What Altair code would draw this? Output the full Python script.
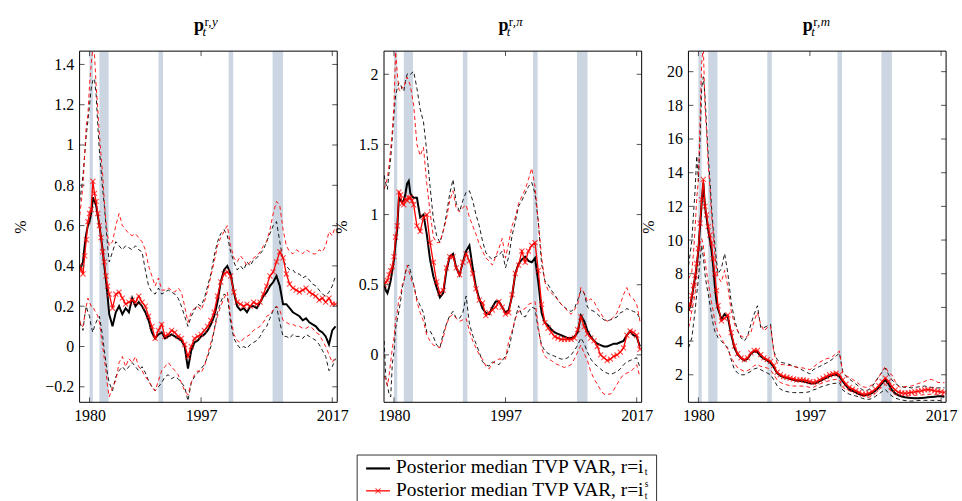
import altair as alt
import pandas as pd

FONT = "Liberation Serif"
W, H = 259, 353

# ---------------- data ----------------
YEARS = [
    1978.5, 1978.75, 1979.0, 1979.25, 1979.5, 1979.75, 1980.0, 1980.25, 1980.5, 1980.75,
    1981.0, 1981.25, 1981.5, 1981.75, 1982.0, 1982.25, 1982.5, 1982.75, 1983.0,
    1983.5, 1984.0, 1984.5, 1985.0, 1985.5, 1986.0, 1986.5, 1987.0, 1987.5, 1988.0,
    1988.5, 1989.0, 1989.5, 1990.0, 1990.5, 1991.0, 1991.5, 1992.0, 1992.5, 1993.0,
    1993.5, 1994.0, 1994.5, 1995.0, 1995.5, 1996.0, 1996.5, 1997.0, 1997.5, 1998.0,
    1998.5, 1999.0, 1999.5, 2000.0, 2000.5, 2001.0, 2001.5, 2002.0, 2002.5, 2003.0,
    2003.5, 2004.0, 2004.5, 2005.0, 2005.5, 2006.0, 2006.5, 2007.0, 2007.5, 2008.0,
    2008.5, 2009.0, 2009.5, 2010.0, 2010.5, 2011.0, 2011.5, 2012.0, 2012.5, 2013.0,
    2013.5, 2014.0, 2014.5, 2015.0, 2015.5, 2016.0, 2016.5, 2017.0, 2017.5]

# Panel 1: p^{r,y}
BM1 = [0.38, 0.40, 0.42, 0.50, 0.56, 0.60, 0.62, 0.66, 0.74, 0.72,
       0.70, 0.65, 0.60, 0.54, 0.48, 0.40, 0.33, 0.25, 0.16,
       0.10, 0.17, 0.20, 0.16, 0.19, 0.17, 0.24, 0.20, 0.22, 0.20,
       0.17, 0.13, 0.07, 0.04, 0.06, 0.07, 0.04, 0.05, 0.06, 0.05,
       0.04, 0.03, 0.00, -0.11, -0.02, 0.02, 0.03, 0.05, 0.06, 0.08,
       0.11, 0.15, 0.22, 0.32, 0.38, 0.40, 0.36, 0.27, 0.20, 0.18,
       0.19, 0.17, 0.20, 0.20, 0.19, 0.22, 0.25, 0.27, 0.30, 0.32,
       0.35, 0.30, 0.21, 0.21, 0.19, 0.17, 0.16, 0.15, 0.13, 0.14,
       0.12, 0.11, 0.10, 0.08, 0.07, 0.05, 0.01, 0.08, 0.10]
RM1 = [0.40, 0.38, 0.36, 0.45, 0.53, 0.62, 0.66, 0.68, 0.82, 0.76,
       0.72, 0.66, 0.60, 0.54, 0.47, 0.42, 0.35, 0.30, 0.26,
       0.19, 0.26, 0.27, 0.24, 0.21, 0.22, 0.23, 0.22, 0.25, 0.22,
       0.20, 0.15, 0.10, 0.04, 0.08, 0.11, 0.05, 0.06, 0.08, 0.07,
       0.05, 0.04, 0.01, -0.05, 0.00, 0.04, 0.05, 0.06, 0.08, 0.10,
       0.13, 0.17, 0.25, 0.32, 0.36, 0.37, 0.35, 0.27, 0.22, 0.21,
       0.20, 0.21, 0.20, 0.22, 0.21, 0.22, 0.26, 0.30, 0.35, 0.37,
       0.42, 0.47, 0.44, 0.36, 0.31, 0.29, 0.28, 0.27, 0.28, 0.29,
       0.27, 0.26, 0.25, 0.23, 0.24, 0.22, 0.24, 0.21, 0.21]
BU1 = [0.72, 0.78, 0.85, 0.95, 1.05, 1.12, 1.20, 1.28, 1.32, 1.33,
       1.25, 1.10, 0.97, 0.88, 0.78, 0.70, 0.60, 0.50, 0.42,
       0.47, 0.52, 0.50, 0.48, 0.50, 0.49, 0.48, 0.50, 0.48, 0.47,
       0.38, 0.30, 0.27, 0.26, 0.29, 0.26, 0.27, 0.28, 0.27, 0.26,
       0.24, 0.20, 0.15, 0.10, 0.15, 0.18, 0.21, 0.20, 0.24, 0.30,
       0.36, 0.45, 0.52, 0.56, 0.58, 0.55, 0.47, 0.42, 0.38, 0.40,
       0.38, 0.42, 0.40, 0.43, 0.44, 0.46, 0.48, 0.52, 0.56, 0.60,
       0.62, 0.52, 0.43, 0.40, 0.38, 0.38, 0.36, 0.36, 0.34, 0.35,
       0.33, 0.31, 0.30, 0.28, 0.26, 0.25, 0.27, 0.30, 0.35]
RU1 = [0.65, 0.72, 0.80, 0.95, 1.10, 1.15, 1.30, 1.40, 1.48, 1.45,
       1.30, 1.18, 1.05, 0.95, 0.85, 0.72, 0.62, 0.55, 0.50,
       0.52, 0.60, 0.66, 0.60, 0.58, 0.56, 0.55, 0.56, 0.54, 0.52,
       0.48, 0.40, 0.35, 0.30, 0.34, 0.28, 0.28, 0.29, 0.28, 0.27,
       0.29, 0.27, 0.20, 0.12, 0.17, 0.19, 0.20, 0.18, 0.22, 0.28,
       0.35, 0.42, 0.50, 0.54, 0.57, 0.60, 0.50, 0.44, 0.42, 0.45,
       0.43, 0.40, 0.42, 0.44, 0.45, 0.47, 0.50, 0.52, 0.58, 0.66,
       0.72, 0.70, 0.58, 0.50, 0.47, 0.46, 0.48, 0.47, 0.46, 0.48,
       0.47, 0.46, 0.46, 0.48, 0.47, 0.50, 0.57, 0.55, 0.60]
BL1 = [0.12, 0.10, 0.08, 0.15, 0.20, 0.17, 0.15, 0.10, 0.07, 0.10,
       0.12, 0.14, 0.15, 0.10, 0.05, -0.02, -0.08, -0.14, -0.18,
       -0.22, -0.15, -0.12, -0.10, -0.12, -0.10, -0.08, -0.10, -0.12, -0.10,
       -0.13, -0.17, -0.20, -0.22, -0.20, -0.18, -0.15, -0.14, -0.16, -0.15,
       -0.16, -0.18, -0.20, -0.27, -0.18, -0.15, -0.13, -0.11, -0.09, -0.05,
       0.00, 0.08, 0.17, 0.22, 0.26, 0.25, 0.12, 0.04, 0.01, -0.01,
       0.00, -0.01, 0.01, 0.02, 0.03, 0.05, 0.08, 0.10, 0.14, 0.18,
       0.20, 0.12, 0.05, 0.05, 0.04, 0.06, 0.05, 0.05, 0.04, 0.06,
       0.05, 0.04, 0.03, 0.01, -0.02, -0.05, -0.12, -0.10, -0.06]
RL1 = [0.13, 0.10, 0.10, 0.15, 0.20, 0.24, 0.22, 0.20, 0.20, 0.18,
       0.17, 0.15, 0.12, 0.06, 0.00, -0.06, -0.12, -0.20, -0.25,
       -0.20, -0.17, -0.08, -0.05, -0.10, -0.06, -0.08, -0.05, -0.10, -0.12,
       -0.15, -0.17, -0.20, -0.22, -0.17, -0.12, -0.10, -0.08, -0.10, -0.12,
       -0.14, -0.18, -0.22, -0.24, -0.18, -0.14, -0.12, -0.13, -0.10, -0.04,
       0.02, 0.08, 0.15, 0.20, 0.24, 0.27, 0.15, 0.06, 0.03, 0.02,
       0.04, 0.05, 0.06, 0.08, 0.09, 0.10, 0.12, 0.15, 0.16, 0.18,
       0.20, 0.18, 0.13, 0.12, 0.11, 0.11, 0.10, 0.10, 0.09, 0.09,
       0.10, 0.09, 0.07, 0.06, 0.03, 0.00, -0.04, -0.08, -0.05]

# Panel 2: p^{r,pi}
BM2 = [0.50, 0.46, 0.44, 0.48, 0.53, 0.60, 0.68, 0.80, 0.90, 1.12,
       1.10, 1.09, 1.10, 1.15, 1.22, 1.24, 1.15, 1.13, 1.12,
       1.12, 0.98, 1.00, 0.86, 0.68, 0.56, 0.48, 0.41, 0.44, 0.60,
       0.70, 0.72, 0.62, 0.57, 0.66, 0.74, 0.78, 0.62, 0.48, 0.40,
       0.33, 0.30, 0.29, 0.34, 0.38, 0.38, 0.34, 0.30, 0.32, 0.42,
       0.58, 0.65, 0.68, 0.70, 0.67, 0.66, 0.69, 0.52, 0.30, 0.23,
       0.21, 0.18, 0.16, 0.15, 0.14, 0.13, 0.12, 0.12, 0.13, 0.16,
       0.28, 0.24, 0.17, 0.13, 0.10, 0.08, 0.07, 0.06, 0.06, 0.07,
       0.08, 0.08, 0.09, 0.10, 0.14, 0.17, 0.14, 0.13, 0.06]
RM2 = [0.50, 0.52, 0.53, 0.57, 0.60, 0.63, 0.70, 0.84, 0.92, 1.16,
       1.14, 1.08, 1.07, 1.11, 1.10, 1.12, 1.12, 1.10, 1.07,
       0.92, 0.88, 0.98, 1.00, 0.80, 0.66, 0.52, 0.44, 0.46, 0.62,
       0.70, 0.70, 0.62, 0.57, 0.66, 0.72, 0.67, 0.58, 0.47, 0.39,
       0.37, 0.28, 0.30, 0.32, 0.34, 0.38, 0.34, 0.29, 0.30, 0.43,
       0.58, 0.64, 0.74, 0.66, 0.74, 0.78, 0.80, 0.60, 0.36, 0.23,
       0.19, 0.16, 0.13, 0.12, 0.11, 0.11, 0.11, 0.11, 0.12, 0.18,
       0.27, 0.20, 0.15, 0.12, 0.10, 0.06, 0.00, -0.02, -0.04, -0.03,
       -0.01, 0.00, 0.02, 0.05, 0.14, 0.17, 0.16, 0.14, 0.04]
BU2 = [1.28, 1.22, 1.18, 1.30, 1.40, 1.55, 1.72, 1.85, 1.90, 1.94,
       1.93, 1.89, 1.88, 1.95, 2.00, 2.01, 2.00, 2.01, 2.02,
       1.90, 1.75, 1.66, 1.45, 1.20, 0.97, 0.85, 0.80, 0.88, 1.00,
       1.15, 1.25, 1.08, 1.02, 1.10, 1.16, 1.17, 1.10, 1.00, 0.92,
       0.81, 0.73, 0.70, 0.68, 0.70, 0.71, 0.74, 0.62, 0.70, 0.85,
       0.95, 1.06, 1.10, 1.15, 1.20, 1.23, 1.15, 0.95, 0.65, 0.53,
       0.50, 0.46, 0.43, 0.39, 0.36, 0.34, 0.32, 0.31, 0.33, 0.39,
       0.46, 0.44, 0.34, 0.32, 0.31, 0.29, 0.27, 0.25, 0.24, 0.25,
       0.26, 0.27, 0.30, 0.31, 0.33, 0.32, 0.31, 0.30, 0.26]
RU2 = [1.18, 1.22, 1.26, 1.35, 1.47, 1.60, 1.78, 2.16, 2.01, 1.89,
       1.88, 1.91, 1.90, 1.95, 1.98, 1.95, 1.92, 1.85, 1.78,
       1.50, 1.42, 1.48, 1.22, 1.02, 0.84, 0.80, 0.80, 0.88, 0.97,
       1.10, 1.17, 1.04, 1.02, 1.05, 1.07, 0.98, 0.92, 0.86, 0.79,
       0.74, 0.69, 0.67, 0.64, 0.70, 0.76, 0.83, 0.69, 0.80, 0.92,
       0.98, 1.08, 1.13, 1.18, 1.25, 1.33, 1.20, 0.95, 0.70, 0.52,
       0.46, 0.44, 0.42, 0.39, 0.36, 0.34, 0.31, 0.29, 0.32, 0.36,
       0.48, 0.44, 0.38, 0.40, 0.38, 0.33, 0.30, 0.26, 0.24, 0.25,
       0.27, 0.30, 0.36, 0.43, 0.48, 0.42, 0.40, 0.36, 0.24]
BL2 = [0.10, -0.16, -0.22, -0.28, -0.30, -0.06, 0.02, 0.19, 0.25, 0.31,
       0.38, 0.48, 0.52, 0.59, 0.63, 0.64, 0.60, 0.55, 0.50,
       0.40, 0.35, 0.30, 0.16, 0.17, 0.13, 0.07, 0.05, 0.15, 0.22,
       0.28, 0.31, 0.26, 0.26, 0.30, 0.42, 0.22, 0.14, 0.08, 0.02,
       -0.05, -0.07, -0.08, -0.05, -0.06, -0.07, -0.04, -0.01, 0.04, 0.15,
       0.26, 0.35, 0.28, 0.27, 0.31, 0.34, 0.33, 0.18, 0.07, 0.03,
       0.01, 0.00, -0.01, -0.02, -0.03, -0.03, -0.02, 0.00, 0.03, 0.07,
       0.12, 0.08, 0.02, -0.03, -0.06, -0.08, -0.10, -0.12, -0.13, -0.14,
       -0.13, -0.12, -0.10, -0.07, -0.05, -0.04, -0.03, -0.02, -0.09]
RL2 = [-0.15, -0.18, -0.22, -0.15, -0.05, 0.05, 0.12, 0.25, 0.30, 0.40,
       0.42, 0.50, 0.52, 0.58, 0.64, 0.60, 0.56, 0.52, 0.50,
       0.38, 0.30, 0.24, 0.14, 0.10, 0.07, 0.06, 0.05, 0.12, 0.22,
       0.27, 0.29, 0.26, 0.24, 0.25, 0.26, 0.17, 0.10, 0.05, 0.00,
       -0.03, -0.08, -0.10, -0.06, -0.04, -0.03, -0.03, -0.03, 0.10, 0.17,
       0.26, 0.31, 0.32, 0.33, 0.36, 0.37, 0.38, 0.20, 0.05, -0.01,
       -0.03, -0.04, -0.06, -0.07, -0.08, -0.09, -0.08, -0.07, -0.03, 0.02,
       0.07, 0.01, -0.04, -0.12, -0.17, -0.21, -0.25, -0.28, -0.28, -0.28,
       -0.25, -0.21, -0.17, -0.14, -0.13, -0.12, -0.10, -0.07, -0.16]

# Panel 3: p^{r,m}
BM3 = [5.8, 6.1, 6.6, 7.2, 7.8, 8.5, 9.4, 10.8, 12.2, 13.4,
       12.0, 11.3, 10.6, 10.0, 9.4, 8.5, 7.3, 6.4, 5.9,
       5.3, 5.6, 5.4, 4.4, 3.6, 3.2, 3.0, 2.85, 2.95, 3.25,
       3.4, 3.35, 3.1, 2.95, 2.85, 2.7, 2.45, 2.1, 1.95, 1.85,
       1.8, 1.75, 1.7, 1.65, 1.65, 1.6, 1.55, 1.5, 1.48, 1.52,
       1.62, 1.72, 1.82, 1.92, 1.98, 2.02, 1.9, 1.6, 1.35, 1.15,
       1.05, 0.95, 0.85, 0.78, 0.78, 0.82, 0.92, 1.05, 1.25, 1.5,
       1.7, 1.45, 1.1, 0.9, 0.78, 0.7, 0.66, 0.63, 0.62, 0.6,
       0.6, 0.62, 0.64, 0.66, 0.68, 0.7, 0.72, 0.72, 0.7]
RM3 = [5.9, 6.2, 6.7, 7.3, 7.9, 8.6, 9.5, 11.0, 12.4, 13.6,
       12.0, 11.5, 10.8, 10.3, 9.8, 8.9, 8.0, 7.0, 6.1,
       5.2, 5.35, 5.55, 4.5, 3.7, 3.25, 3.0, 2.9, 3.0, 3.3,
       3.45, 3.45, 3.2, 3.0, 2.9, 2.8, 2.55, 2.15, 2.0, 1.9,
       1.85, 1.8, 1.75, 1.7, 1.7, 1.7, 1.65, 1.6, 1.55, 1.6,
       1.7, 1.8, 1.9, 2.0, 2.05, 2.1, 2.0, 1.7, 1.45, 1.25,
       1.15, 1.05, 0.95, 0.85, 0.85, 0.9, 1.0, 1.15, 1.35, 1.6,
       1.8, 1.6, 1.3, 1.1, 0.95, 0.92, 0.9, 0.92, 0.95, 0.98,
       1.02, 1.05, 1.1, 1.12, 1.1, 1.05, 1.02, 0.98, 0.95]
BU3 = [8.5, 9.2, 10.0, 11.5, 13.0, 15.0, 13.5, 16.0, 19.0, 19.7,
       18.6, 16.8, 15.0, 13.6, 12.0, 10.7, 9.8, 8.8, 8.0,
       8.3, 9.2, 8.0, 6.3, 5.3, 4.6, 4.2, 4.0, 4.3, 5.0,
       5.6, 6.1, 4.8, 4.8, 4.9, 5.0, 3.4, 2.9, 2.75, 2.7,
       2.65, 2.6, 2.5, 2.45, 2.35, 2.25, 2.15, 2.05, 2.3, 2.4,
       2.5, 2.6, 2.7, 2.8, 2.95, 3.1, 3.3, 2.2, 1.9, 1.75,
       1.6, 1.45, 1.3, 1.1, 1.05, 1.12, 1.3, 1.6, 1.9, 2.15,
       2.4, 2.0, 1.7, 1.5, 1.35, 1.3, 1.25, 1.25, 1.22, 1.25,
       1.28, 1.3, 1.33, 1.3, 1.25, 1.25, 1.22, 1.23, 1.23]
RU3 = [7.7, 7.9, 8.1, 9.2, 10.7, 12.5, 13.6, 17.0, 20.5, 21.5,
       18.0, 16.4, 14.5, 13.2, 11.5, 10.5, 9.2, 8.3, 7.8,
       7.5, 8.2, 7.2, 5.8, 5.0, 4.6, 4.3, 4.2, 4.3, 4.5,
       5.2, 5.7, 5.0, 4.6, 4.8, 4.9, 3.3, 2.7, 2.6, 2.6,
       2.55, 2.55, 2.5, 2.45, 2.42, 2.4, 2.35, 2.3, 2.45, 2.6,
       2.75, 2.85, 2.95, 3.0, 3.1, 3.25, 3.4, 2.1, 1.95, 1.85,
       1.73, 1.6, 1.45, 1.3, 1.25, 1.3, 1.4, 1.6, 1.85, 2.2,
       2.5, 2.1, 2.0, 1.6, 1.3, 1.23, 1.3, 1.32, 1.33, 1.4,
       1.48, 1.53, 1.6, 1.7, 1.73, 1.65, 1.55, 1.53, 1.53]
BL3 = [3.6, 3.9, 4.2, 5.0, 5.8, 6.8, 7.7, 8.8, 9.7, 9.0,
       8.0, 7.3, 6.8, 6.2, 5.6, 5.0, 4.6, 4.4, 4.2,
       4.0, 3.8, 3.6, 2.9, 2.3, 2.1, 2.0, 2.0, 2.1, 2.2,
       2.35, 2.4, 2.3, 2.2, 2.1, 2.0, 1.7, 1.35, 1.15, 1.05,
       1.0, 0.96, 0.94, 0.94, 0.94, 0.94, 0.96, 1.0, 1.1, 1.15,
       1.25, 1.33, 1.38, 1.43, 1.48, 1.5, 1.53, 1.1, 0.95, 0.85,
       0.78, 0.74, 0.68, 0.6, 0.55, 0.54, 0.6, 0.72, 0.85, 1.0,
       1.13, 0.9, 0.74, 0.62, 0.55, 0.5, 0.47, 0.44, 0.44, 0.45,
       0.47, 0.48, 0.48, 0.48, 0.48, 0.48, 0.48, 0.46, 0.44]
RL3 = [4.8, 5.2, 5.8, 6.3, 6.8, 8.0, 9.3, 9.8, 10.1, 9.7,
       8.8, 8.1, 7.5, 6.9, 6.3, 5.8, 5.2, 4.8, 4.5,
       4.2, 3.8, 3.5, 3.0, 2.7, 2.4, 2.3, 2.2, 2.25, 2.35,
       2.55, 2.6, 2.5, 2.45, 2.4, 2.3, 2.0, 1.7, 1.55, 1.45,
       1.4, 1.35, 1.33, 1.33, 1.33, 1.33, 1.3, 1.25, 1.25, 1.35,
       1.45, 1.53, 1.6, 1.65, 1.7, 1.73, 1.7, 1.25, 1.15, 1.05,
       0.98, 0.94, 0.85, 0.75, 0.68, 0.66, 0.75, 0.9, 1.1, 1.3,
       1.43, 1.2, 0.94, 0.82, 0.76, 0.74, 0.74, 0.74, 0.76, 0.78,
       0.8, 0.8, 0.82, 0.84, 0.84, 0.84, 0.84, 0.8, 0.74]

REC_START = [1980.0, 1981.5, 1990.5, 2001.2, 2007.9]
REC_END = [1980.5, 1982.9, 1991.2, 2001.9, 2009.5]

X_DOMAIN = [1978.48, 2017.76]
X_TICKS = [1980, 1997, 2017]
Y_DOMAINS = [[-0.277, 1.466], [-0.338, 2.165], [0.365, 21.22]]
Y_TICKS = [[-0.2, 0, 0.2, 0.4, 0.6, 0.8, 1, 1.2, 1.4],
           [0, 0.5, 1, 1.5, 2],
           [2, 4, 6, 8, 10, 12, 14, 16, 18, 20]]
SUP_LETTERS = ["y", "π", "m"]
LEGEND_TEXT = "Posterior median TVP VAR, r=i"

BAND = "#cbd6e2"
RED = "#ff0000"
TICK = "#555555"
XPATH = "M-1,-1L1,1M1,-1L-1,1"

ONE = pd.DataFrame({"a": [0]})
REC_DF = pd.DataFrame({"start": REC_START, "end": REC_END})


def txt(text, x, y, size, **kw):
    return alt.Chart(ONE).mark_text(text=text, font=FONT, fontSize=size, align="left",
                                    baseline="alphabetic", color="black", **kw).encode(
        x=alt.value(x), y=alt.value(y))


def panel(series, ydom, yticks, letter, title_pad, legend=False):
    bm, rm, bu, bl, ru, rl = series
    rows = []
    for name, vals in (("bu", bu), ("bl", bl), ("ru", ru), ("rl", rl), ("bm", bm), ("rm", rm)):
        for yr, v in zip(YEARS, vals):
            rows.append({"year": yr, "value": v, "s": name})
    df = pd.DataFrame(rows)

    xs = alt.Scale(domain=X_DOMAIN, nice=False, zero=False)
    ys = alt.Scale(domain=ydom, nice=False, zero=False)
    xax = alt.Axis(values=X_TICKS, format="d", title=None, ticks=False, domain=False, grid=False,
                   labelPadding=5, labelFontSize=16, labelFont=FONT, labelColor="black",
                   labelFlush=False, labelOverlap=False)
    yax = alt.Axis(values=yticks, format="~g", title="%", ticks=False, domain=False, grid=False,
                   labelPadding=6, labelFontSize=16, labelFont=FONT, labelColor="black",
                   labelFlush=False, labelOverlap=False,
                   titleFont=FONT, titleFontSize=16, titleFontWeight="normal",
                   titleColor="black", titlePadding=title_pad)
    X = alt.X("year:Q", scale=xs, axis=xax)
    Y = alt.Y("value:Q", scale=ys, axis=yax)

    base = alt.Chart(df)
    bands = alt.Chart(REC_DF).mark_rect(color=BAND).encode(
        x=alt.X("start:Q", scale=xs, axis=xax), x2="end:Q",
        y=alt.value(0), y2=alt.value(H))
    bdash = base.transform_filter(alt.FieldOneOfPredicate(field="s", oneOf=["bu", "bl"])).mark_line(
        color="black", strokeDash=[4, 3], strokeWidth=0.9, clip=True).encode(x=X, y=Y, detail="s:N")
    rdash = base.transform_filter(alt.FieldOneOfPredicate(field="s", oneOf=["ru", "rl"])).mark_line(
        color=RED, strokeDash=[4, 3], strokeWidth=0.9, clip=True).encode(x=X, y=Y, detail="s:N")
    bmed = base.transform_filter(alt.datum.s == "bm").mark_line(
        color="black", strokeWidth=2.0, clip=True).encode(x=X, y=Y)
    rmed = base.transform_filter(alt.datum.s == "rm").mark_line(
        color=RED, strokeWidth=1.3, clip=True).encode(x=X, y=Y)
    rpts = base.transform_filter(alt.datum.s == "rm").mark_point(
        shape=XPATH, size=26, color=RED, strokeWidth=1.1, filled=False, clip=True).encode(x=X, y=Y)

    ytd = pd.DataFrame({"v": yticks})
    xtd = pd.DataFrame({"v": X_TICKS})
    YT = alt.Y("v:Q", scale=ys, axis=yax)
    XT = alt.X("v:Q", scale=xs, axis=xax)
    tl = alt.Chart(ytd).mark_rule(color=TICK, strokeWidth=1).encode(y=YT, x=alt.value(0), x2=alt.value(5))
    tr = alt.Chart(ytd).mark_rule(color=TICK, strokeWidth=1).encode(y=YT, x=alt.value(W - 5), x2=alt.value(W))
    tb = alt.Chart(xtd).mark_rule(color=TICK, strokeWidth=1).encode(x=XT, y=alt.value(H - 5), y2=alt.value(H))
    tt = alt.Chart(xtd).mark_rule(color=TICK, strokeWidth=1).encode(x=XT, y=alt.value(0), y2=alt.value(5))
    frame = alt.Chart(ONE).mark_rect(fill="white", fillOpacity=0, stroke="black", strokeWidth=1).encode(
        x=alt.value(0), x2=alt.value(W), y=alt.value(0), y2=alt.value(H))

    layers = [bands, bdash, rdash, bmed, rmed, rpts, tl, tr, tb, tt, frame,
              txt("p", 115, -20, 18, fontWeight="bold"),
              txt("r,", 125.5, -25, 13),
              txt(letter, 133, -25, 13, fontStyle="italic"),
              txt("t", 123.5, -15, 13, fontStyle="italic")]

    if legend:
        box = alt.Chart(ONE).mark_rect(fill="white", fillOpacity=0, stroke="#333333", strokeWidth=1).encode(
            x=alt.value(-27), x2=alt.value(274), y=alt.value(406), y2=alt.value(480))
        l1 = alt.Chart(ONE).mark_rule(color="black", strokeWidth=2.2).encode(
            x=alt.value(-18), x2=alt.value(6), y=alt.value(419.5))
        l2 = alt.Chart(ONE).mark_rule(color=RED, strokeWidth=1.3).encode(
            x=alt.value(-18), x2=alt.value(6), y=alt.value(442))
        m2 = alt.Chart(ONE).mark_point(shape=XPATH, size=26, color=RED, strokeWidth=1.1, filled=False).encode(
            x=alt.value(-6), y=alt.value(442))
        layers += [box, l1, l2, m2,
                   txt(LEGEND_TEXT, 12, 424.5, 19.5),
                   txt("t", 262, 426, 10),
                   txt(LEGEND_TEXT, 12, 447, 19.5),
                   txt("s", 262, 438.5, 9.5),
                   txt("t", 262, 450.5, 9.5)]

    return alt.layer(*layers).properties(width=W, height=H)


p1 = panel((BM1, RM1, BU1, BL1, RU1, RL1), Y_DOMAINS[0], Y_TICKS[0], SUP_LETTERS[0], 16)
p2 = panel((BM2, RM2, BU2, BL2, RU2, RL2), Y_DOMAINS[1], Y_TICKS[1], SUP_LETTERS[1], 9, legend=True)
p3 = panel((BM3, RM3, BU3, BL3, RU3, RL3), Y_DOMAINS[2], Y_TICKS[2], SUP_LETTERS[2], 10)

chart = alt.hconcat(p1, p2, p3, spacing=47, bounds="flush").properties(
    padding={"left": 12, "top": 15, "right": 5, "bottom": 5},
    background="white",
).configure_view(strokeWidth=0)

chart.save("out.html", embed_options={"renderer": "svg", "actions": False})
